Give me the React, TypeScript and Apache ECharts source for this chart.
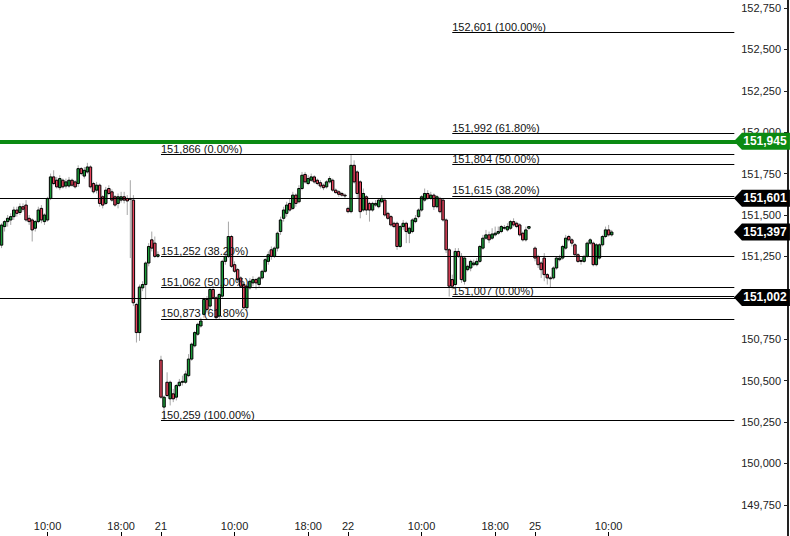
import React, { useEffect, useRef } from "react";
import * as echarts from "echarts";

// ---------- data ----------
const categoryCount = 257;
const tickIndex = [15, 39, 52, 76, 100, 113, 137, 161, 174, 198];
const tickLabels = ["10:00", "18:00", "21", "10:00", "18:00", "22", "10:00", "18:00", "25", "10:00"];
const yTicks = [149.75, 150.0, 150.25, 150.5, 150.75, 151.0, 151.25, 151.5, 151.75, 152.0, 152.25, 152.5, 152.75];
// 151,000 is hidden behind the 151,002 price tag in the reference
const yLabelValues = [149.75, 150.0, 150.25, 150.5, 150.75, 151.25, 151.5, 151.75, 152.0, 152.25, 152.5, 152.75];
const yMin = 149.5616;
const yMax = 152.7983;

// candle data (index = position on the axis); null = no candle
const opens: (number | null)[] = [
  151.318, 151.43, 151.46, 151.47, 151.49, 151.53, 151.515, 151.55, 151.56, 151.48,
  151.47, 151.42, 151.46, 151.54, 151.46, 151.47, 151.6, 151.73, 151.71, 151.665,
  151.71, 151.675, 151.675, 151.71, 151.7, 151.69, 151.78, 151.735, 151.76, 151.79,
  151.69, 151.65, 151.68, 151.61, 151.57, 151.66, 151.64, 151.61, 151.57, 151.59,
  151.61, 151.6, 151.6, 151.59, 150.96, 150.79, 151.06, 151.08, 151.21, 151.35,
  151.33, 151.25, 150.624, 150.34, 150.49, 150.39, 150.42, 150.4, 150.47, 150.49,
  150.49, 150.53, 150.63, 150.71, 150.78, 150.83, 150.9, 150.99, 150.95, 151.05,
  151.0, 150.89, 151.01, 151.22, 151.25, 151.37, 151.2, 151.17, 151.12, 151.08,
  150.94, 151.06, 151.09, 151.11, 151.08, 151.12, 151.16, 151.22, 151.29, 151.25,
  151.3, 151.4, 151.48, 151.51, 151.57, 151.54, 151.62, 151.58, 151.66, 151.745,
  151.69, 151.71, 151.73, 151.71, 151.695, 151.68, 151.67, 151.7, 151.71, 151.65,
  151.64, 151.63, 151.62, 151.54, 151.52, 151.8, 151.76, 151.7, 151.53, 151.61,
  151.57, 151.53, 151.56, 151.55, 151.58, 151.59, 151.51, 151.49, 151.45, 151.45,
  151.31, 151.43, 151.45, 151.39, 151.4, 151.46, 151.49, 151.53, 151.59, 151.63,
  151.6, 151.62, 151.55, 151.6, 151.59, 151.47, 151.29, 151.11, 151.08, 151.28,
  151.25, 151.1, 151.17, 151.18, 151.2, 151.2, 151.22, 151.3, 151.36, 151.38,
  151.36, 151.38, 151.39, 151.4, 151.42, 151.41, 151.42, 151.46, 151.45, 151.44,
  151.39, 151.35, 151.42, null, 151.3, 151.25, 151.21, 151.24, 151.14, 151.12,
  151.12, 151.18, 151.23, 151.24, 151.3, 151.37, 151.35, 151.32, 151.26, 151.225,
  151.22, 151.25, 151.33, 151.33, 151.2, 151.24, 151.32, 151.37, 151.41, 151.38,
];
const closes: (number | null)[] = [
  151.439, 151.46, 151.48, 151.49, 151.53, 151.51, 151.55, 151.535, 151.47, 151.46,
  151.41, 151.46, 151.53, 151.47, 151.5, 151.6, 151.73, 151.69, 151.67, 151.72,
  151.67, 151.7, 151.71, 151.68, 151.67, 151.78, 151.75, 151.77, 151.79, 151.67,
  151.64, 151.68, 151.57, 151.56, 151.65, 151.63, 151.59, 151.56, 151.61, 151.61,
  151.59, 151.585, 151.595, 150.97, 150.79, 151.065, 151.08, 151.21, 151.31, 151.3,
  151.25, 151.26, 150.4, 150.4, 150.41, 150.49, 150.39, 150.47, 150.49, 150.495,
  150.54, 150.63, 150.72, 150.79, 150.84, 150.86, 150.99, 150.93, 151.05, 151.0,
  150.88, 151.02, 151.22, 151.25, 151.37, 151.19, 151.16, 151.11, 151.07, 150.94,
  151.07, 151.1, 151.11, 151.09, 151.12, 151.16, 151.23, 151.26, 151.25, 151.3,
  151.39, 151.47, 151.53, 151.56, 151.53, 151.62, 151.57, 151.66, 151.74, 151.7,
  151.72, 151.73, 151.7, 151.69, 151.675, 151.665, 151.7, 151.72, 151.65, 151.635,
  151.625, 151.62, 151.615, 151.52, 151.8, 151.7, 151.63, 151.52, 151.63, 151.53,
  151.53, 151.57, 151.57, 151.59, 151.6, 151.5, 151.48, 151.44, 151.43, 151.31,
  151.43, 151.45, 151.4, 151.42, 151.47, 151.48, 151.53, 151.61, 151.63, 151.6,
  151.62, 151.55, 151.61, 151.52, 151.47, 151.29, 151.07, 151.07, 151.28, 151.25,
  151.11, 151.24, 151.19, 151.22, 151.21, 151.22, 151.31, 151.36, 151.38, 151.35,
  151.385, 151.39, 151.4, 151.43, 151.425, 151.43, 151.46, 151.44, 151.43, 151.38,
  151.35, 151.41, 151.43, null, 151.24, 151.2, 151.17, 151.14, 151.12, 151.115,
  151.18, 151.24, 151.24, 151.31, 151.36, 151.35, 151.33, 151.26, 151.22, 151.22,
  151.25, 151.33, 151.35, 151.2, 151.32, 151.32, 151.37, 151.41, 151.38, 151.397,
];
const lows: (number | null)[] = [
  151.3, 151.4, 151.43, 151.44, 151.47, 151.49, 151.5, 151.52, 151.46, 151.44,
  151.34, 151.4, 151.45, 151.45, 151.44, 151.46, 151.59, 151.68, 151.66, 151.65,
  151.66, 151.66, 151.665, 151.67, 151.66, 151.67, 151.74, 151.72, 151.75, 151.66,
  151.63, 151.63, 151.55, 151.54, 151.56, 151.62, 151.58, 151.55, 151.54, 151.575,
  151.57, 151.5, 151.24, 150.95, 150.73, 150.74, 151.04, 150.99, 151.19, 151.28,
  151.24, 151.24, 150.39, 150.259, 150.4, 150.35, 150.37, 150.38, 150.46, 150.47,
  150.48, 150.52, 150.62, 150.7, 150.77, 150.82, 150.88, 150.91, 150.93, 150.99,
  150.87, 150.87, 151.0, 151.2, 151.24, 151.18, 151.15, 151.1, 151.06, 150.93,
  150.92, 151.05, 151.07, 151.05, 151.06, 151.11, 151.15, 151.2, 151.23, 151.24,
  151.28, 151.38, 151.46, 151.49, 151.52, 151.53, 151.55, 151.57, 151.65, 151.69,
  151.68, 151.7, 151.69, 151.68, 151.66, 151.65, 151.66, 151.69, 151.64, 151.63,
  151.61, 151.61, 151.6, 151.51, 151.51, 151.69, 151.6, 151.48, 151.52, 151.5,
  151.46, 151.52, 151.55, 151.54, 151.57, 151.49, 151.47, 151.43, 151.42, 151.29,
  151.3, 151.41, 151.33, 151.33, 151.39, 151.45, 151.48, 151.52, 151.58, 151.59,
  151.59, 151.53, 151.54, 151.51, 151.46, 151.27, 151.007, 151.05, 151.06, 151.24,
  151.09, 151.08, 151.16, 151.16, 151.19, 151.19, 151.21, 151.29, 151.35, 151.33,
  151.35, 151.37, 151.38, 151.39, 151.41, 151.4, 151.41, 151.43, 151.42, 151.37,
  151.34, 151.34, 151.41, null, 151.22, 151.18, 151.12, 151.1, 151.08, 151.06,
  151.11, 151.17, 151.22, 151.23, 151.29, 151.34, 151.31, 151.25, 151.21, 151.2,
  151.21, 151.24, 151.32, 151.19, 151.19, 151.23, 151.31, 151.36, 151.37, 151.37,
];
const highs: (number | null)[] = [
  151.45, 151.47, 151.5, 151.51, 151.55, 151.55, 151.57, 151.57, 151.59, 151.5,
  151.48, 151.47, 151.55, 151.56, 151.51, 151.61, 151.75, 151.77, 151.73, 151.74,
  151.72, 151.72, 151.73, 151.72, 151.71, 151.8, 151.79, 151.79, 151.815, 151.8,
  151.7, 151.7, 151.69, 151.62, 151.67, 151.68, 151.655, 151.62, 151.63, 151.64,
  151.64, 151.62, 151.71, 151.62, 150.97, 151.08, 151.1, 151.22, 151.33, 151.4,
  151.37, 151.28, 150.65, 150.41, 150.55, 150.5, 150.45, 150.48, 150.51, 150.53,
  150.56, 150.66, 150.73, 150.8, 150.85, 150.88, 151.0, 151.01, 151.06, 151.07,
  151.01, 151.03, 151.23, 151.27, 151.46, 151.38, 151.22, 151.18, 151.13, 151.09,
  151.08, 151.12, 151.13, 151.12, 151.13, 151.17, 151.24, 151.28, 151.31, 151.31,
  151.4, 151.49, 151.55, 151.58, 151.6, 151.64, 151.63, 151.68, 151.76, 151.76,
  151.74, 151.75, 151.74, 151.72, 151.71, 151.69, 151.71, 151.735, 151.72, 151.66,
  151.65, 151.64, 151.63, 151.55, 151.866, 151.83, 151.77, 151.71, 151.66, 151.62,
  151.58, 151.58, 151.59, 151.6, 151.62, 151.6, 151.52, 151.5, 151.46, 151.46,
  151.44, 151.47, 151.46, 151.43, 151.48, 151.5, 151.54, 151.62, 151.66, 151.65,
  151.64, 151.63, 151.62, 151.61, 151.6, 151.48, 151.3, 151.14, 151.3, 151.3,
  151.27, 151.25, 151.2, 151.23, 151.23, 151.24, 151.32, 151.38, 151.41, 151.4,
  151.42, 151.43, 151.43, 151.44, 151.44, 151.45, 151.47, 151.48, 151.46, 151.45,
  151.4, 151.43, 151.43, null, 151.31, 151.26, 151.22, 151.27, 151.15, 151.13,
  151.19, 151.25, 151.26, 151.32, 151.38, 151.38, 151.36, 151.33, 151.27, 151.24,
  151.26, 151.34, 151.36, 151.34, 151.33, 151.33, 151.38, 151.43, 151.44, 151.41,
];

// Fibonacci retracement sets
const fibLeftValues = [151.866, 151.252, 151.062, 150.873, 150.259];
const fibLeftPct = ["0.00%", "38.20%", "50.00%", "61.80%", "100.00%"];
const fibLeftStart = 52;
const fibRightValues = [152.601, 151.992, 151.804, 151.615, 151.007];
const fibRightPct = ["100.00%", "61.80%", "50.00%", "38.20%", "0.00%"];
const fibRightStart = 147;
const fibEnd = 239;

// horizontal levels and price tags
const greenLevel = 151.945;
const blackLevels = [151.601, 151.002];
const tagValues = [151.945, 151.601, 151.397, 151.002];
const tagColors = ["#0b8a12", "#000000", "#000000", "#000000"];
const tagIndex = 248;

// ---------- helpers ----------
const fmt = (v: number) => v.toFixed(3).replace(".", ",");
const FONT = "'Liberation Sans', Arial, sans-serif";
const GREEN = "#1a9a38";
const RED = "#e8445e";

export default function App() {
  const ref = useRef<HTMLDivElement>(null);

  useEffect(() => {
    if (!ref.current) return;
    const chart = echarts.init(ref.current, undefined, { renderer: "svg" });

    const categories = Array.from({ length: categoryCount }, (_, i) => String(i));
    const tickSet = new Set(tickIndex);
    const labelMap: Record<number, string> = {};
    tickIndex.forEach((t, k) => (labelMap[t] = tickLabels[k]));

    const candles: number[][] = [];
    opens.forEach((o, i) => {
      if (o == null) return;
      candles.push([i, o, closes[i] as number, lows[i] as number, highs[i] as number]);
    });

    const fibItem = (v: number, pct: string, start: number) => [
      {
        coord: [start, v],
        lineStyle: { color: "#000", width: 1, type: "solid" },
        label: {
          show: true,
          position: "insideStartTop",
          formatter: `${fmt(v)} (${pct})`,
          color: "#111",
          fontSize: 11,
          fontFamily: FONT,
          distance: [0, 0],
        },
      },
      { coord: [fibEnd, v] },
    ];

    const markLineData: any[] = [];
    fibLeftValues.forEach((v, k) => markLineData.push(fibItem(v, fibLeftPct[k], fibLeftStart)));
    fibRightValues.forEach((v, k) => markLineData.push(fibItem(v, fibRightPct[k], fibRightStart)));
    blackLevels.forEach((v) =>
      markLineData.push({ yAxis: v, lineStyle: { color: "#000", width: 1, type: "solid" }, label: { show: false } })
    );
    markLineData.push({ yAxis: greenLevel, lineStyle: { color: "#0b8a12", width: 4, type: "solid" }, label: { show: false } });

    const option: any = {
      animation: false,
      backgroundColor: "#ffffff",
      grid: { left: 0, right: 2, top: 0, bottom: 0, containLabel: false },
      xAxis: {
        type: "category",
        data: categories,
        boundaryGap: true,
        axisLine: { show: false },
        axisTick: {
          show: true,
          inside: true,
          length: 4,
          alignWithLabel: true,
          interval: (idx: number) => tickSet.has(idx),
          lineStyle: { color: "#000" },
        },
        axisLabel: {
          inside: true,
          margin: 5,
          interval: (idx: number) => tickSet.has(idx),
          formatter: (_v: string, idx: number) => labelMap[idx] ?? "",
          color: "#222",
          fontSize: 11,
          fontFamily: FONT,
        },
        splitLine: { show: false },
      },
      yAxis: {
        type: "value",
        position: "right",
        min: yMin,
        max: yMax,
        axisLine: { show: true, lineStyle: { color: "#222", width: 2 } },
        axisTick: { show: true, inside: true, length: 4, customValues: yTicks, lineStyle: { color: "#222" } },
        axisLabel: {
          inside: true,
          margin: 7,
          customValues: yLabelValues,
          formatter: (v: number) => fmt(v),
          color: "#222",
          fontSize: 11,
          fontFamily: FONT,
        },
        splitLine: { show: false },
      },
      series: [
        {
          type: "line",
          data: [],
          silent: true,
          z: 1,
          markLine: {
            silent: true,
            symbol: ["none", "none"],
            animation: false,
            data: markLineData,
          },
        },
        {
          type: "custom",
          z: 3,
          data: candles,
          encode: { x: 0, y: [1, 2, 3, 4] },
          renderItem: (_params: any, api: any) => {
            const i = api.value(0);
            const o = api.value(1);
            const c = api.value(2);
            const l = api.value(3);
            const h = api.value(4);
            const po = api.coord([i, o]);
            const pc = api.coord([i, c]);
            const pl = api.coord([i, l]);
            const ph = api.coord([i, h]);
            const band = api.size([1, 0])[0];
            const w = band * 0.8;
            const top = Math.min(po[1], pc[1]);
            const hgt = Math.max(Math.abs(po[1] - pc[1]), 0.6);
            return {
              type: "group",
              children: [
                {
                  type: "line",
                  shape: { x1: po[0], y1: ph[1], x2: po[0], y2: pl[1] },
                  style: { stroke: "#a6a6a6", lineWidth: 1 },
                },
                {
                  type: "rect",
                  shape: { x: po[0] - w / 2, y: top, width: w, height: hgt },
                  style: { fill: c >= o ? GREEN : RED, stroke: "#000", lineWidth: 1 },
                },
              ],
            };
          },
        },
        {
          type: "line",
          data: [],
          silent: true,
          z: 10,
          markPoint: {
            silent: true,
            animation: false,
            data: tagValues.map((v, k) => ({
              coord: [tagIndex, v],
              symbol: "path://M0,8.5L8,0L56,0L56,17L8,17Z",
              symbolSize: [56, 17],
              itemStyle: { color: tagColors[k] },
              label: {
                show: true,
                position: "inside",
                offset: [3, 0],
                formatter: fmt(v),
                color: "#fff",
                fontWeight: "bold",
                fontSize: 12,
                fontFamily: FONT,
              },
            })),
          },
        },
      ],
    };

    chart.setOption(option);
    return () => chart.dispose();
  }, []);

  return (
    <div
      ref={ref}
      style={{ position: "fixed", left: 0, top: 0, width: 790, height: 536, background: "#fff" }}
    />
  );
}
